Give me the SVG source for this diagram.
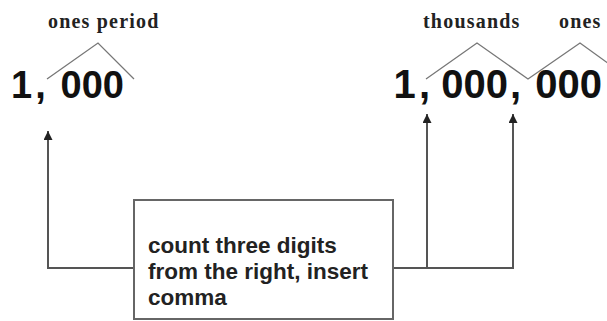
<svg xmlns="http://www.w3.org/2000/svg" width="607" height="321" viewBox="0 0 607 321">
<defs>
<style>
.num{font-family:"Liberation Sans",Arial,sans-serif;font-weight:bold;fill:#111}
.lbl{font-family:"Liberation Serif","Times New Roman",serif;font-weight:bold;font-size:20px;letter-spacing:1.2px;fill:#222}
.caret{fill:none;stroke:#777;stroke-width:1.3}
.conn{fill:none;stroke:#555;stroke-width:2}
.box{fill:#fff;stroke:#666;stroke-width:2}
.txt{font-family:"Liberation Sans",Arial,sans-serif;font-weight:bold;font-size:22.5px;fill:#222}
</style>
<marker id="ah" viewBox="0 0 10 10" refX="10" refY="5" markerWidth="10" markerHeight="9" markerUnits="userSpaceOnUse" orient="auto">
<path d="M0,0 L10,5 L0,10 Z" fill="#222"/>
</marker>
</defs>
<rect width="607" height="321" fill="#fff"/>
<g id="left-number">
<text class="lbl" x="48" y="28">ones period</text>
<polyline class="caret" points="47,79 98,43 134,79"/>
<text class="num" font-size="38" y="98"><tspan x="11">1</tspan><tspan x="35.3">,</tspan><tspan x="60.5">000</tspan></text>
</g>
<g id="right-number">
<text class="lbl" x="423" y="28">thousands</text>
<text class="lbl" x="559" y="28">ones</text>
<polyline class="caret" points="426,79 477,43 528,79 580,43 616,69"/>
<text class="num" font-size="40" y="98"><tspan x="393.6">1</tspan><tspan x="419">,</tspan><tspan x="441.3">000</tspan><tspan x="510">,</tspan><tspan x="535.3">000</tspan></text>
</g>
<g id="connectors">
<polyline class="conn" points="134,268 48,268 48,131" marker-end="url(#ah)"/>
<polyline class="conn" points="393,268 513,268 513,114" marker-end="url(#ah)"/>
<line class="conn" x1="427" y1="268" x2="427" y2="114" marker-end="url(#ah)"/>
</g>
<g id="note">
<rect class="box" x="134" y="200" width="259" height="119"/>
<text class="txt" x="148" y="253">count three digits</text>
<text class="txt" x="148" y="279">from the right, insert</text>
<text class="txt" x="148" y="305">comma</text>
</g>
</svg>
